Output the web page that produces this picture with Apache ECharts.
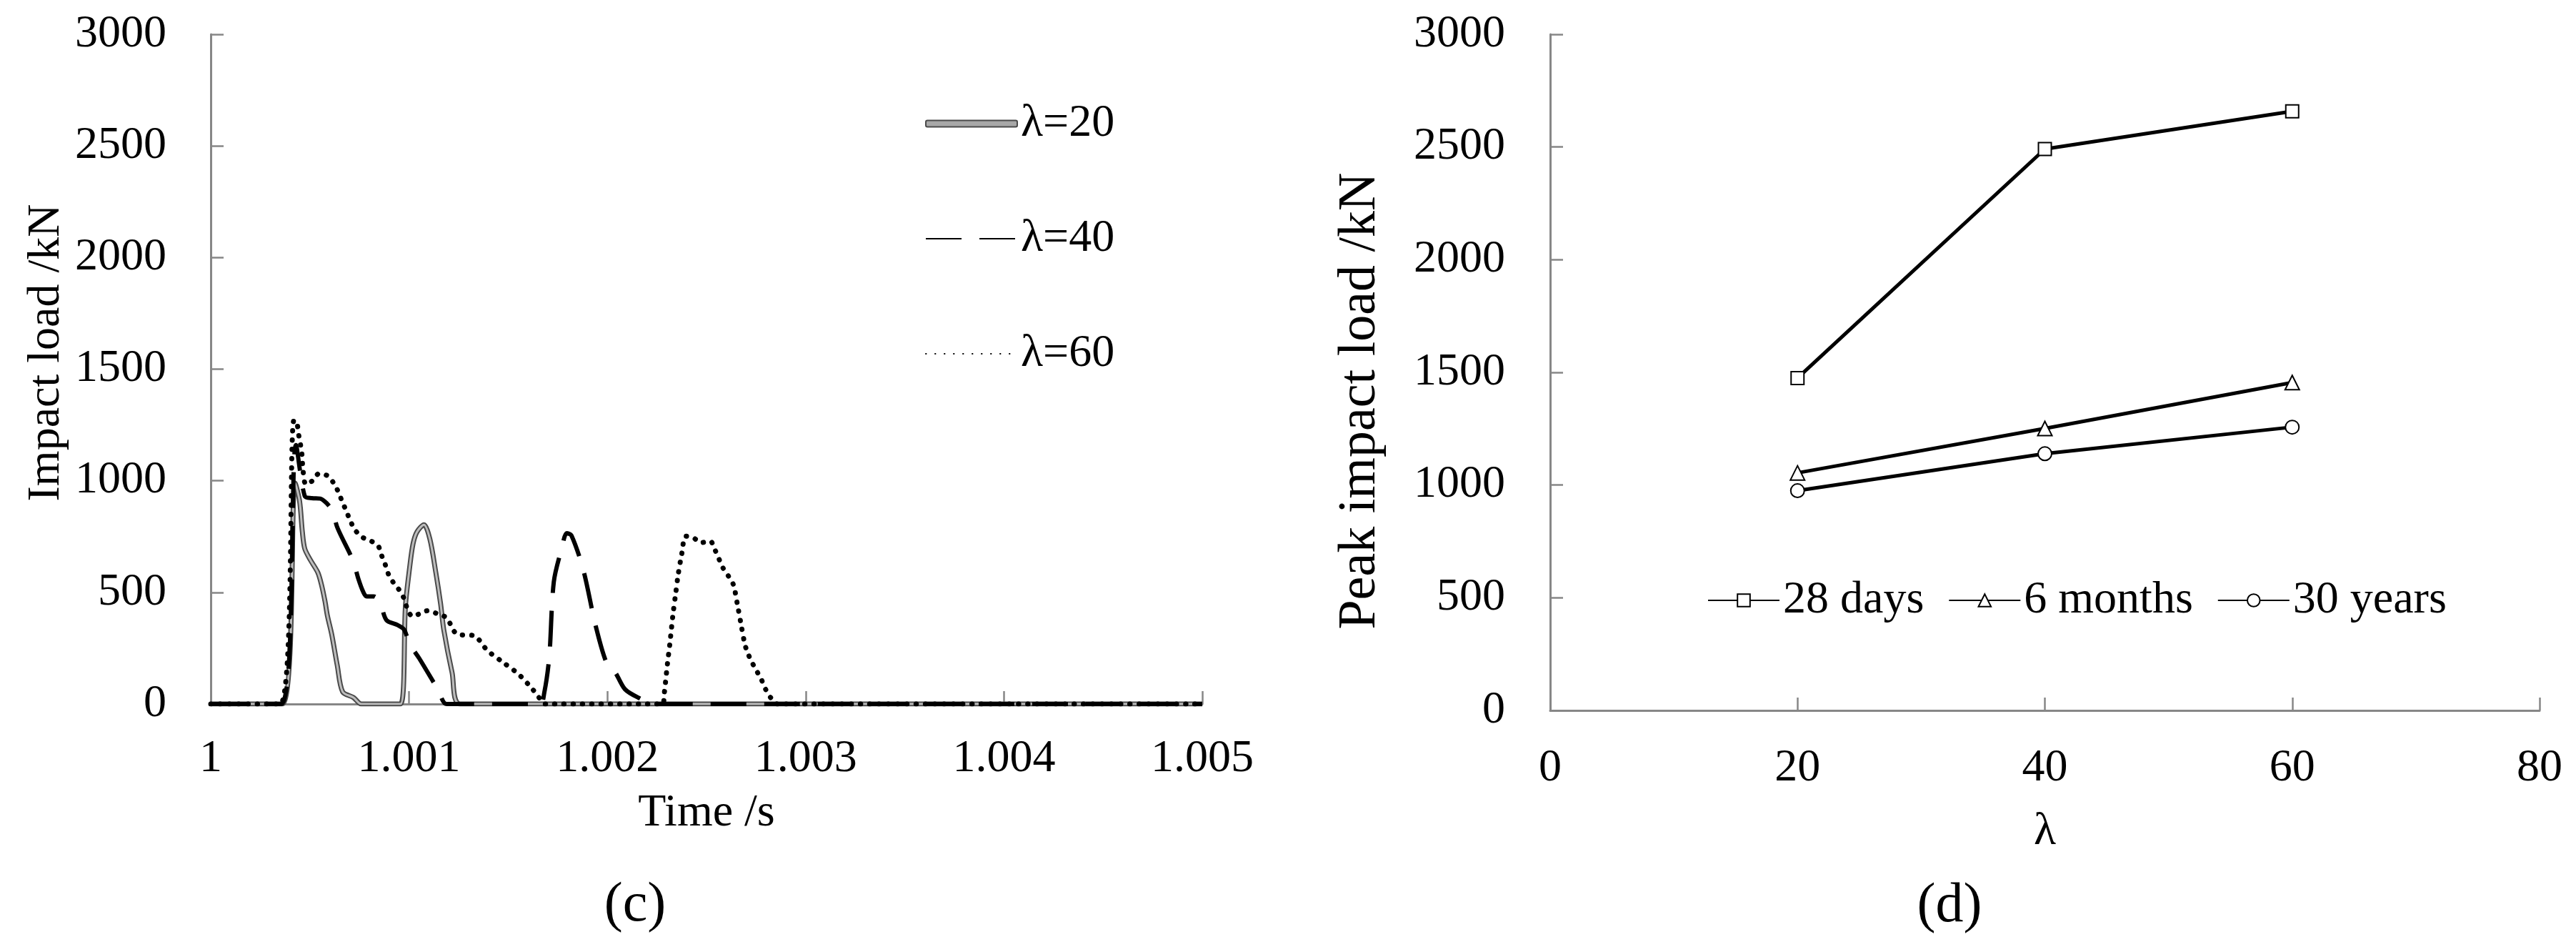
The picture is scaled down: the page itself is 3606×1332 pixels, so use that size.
<!DOCTYPE html>
<html>
<head>
<meta charset="utf-8">
<script src="https://cdn.jsdelivr.net/npm/echarts@6/dist/echarts.min.js"></script>
<style>
  html, body { margin: 0; padding: 0; background: #fff; }
  #chart { width: 3606px; height: 1332px; }
</style>
</head>
<body>
<div id="chart"></div>
<script>
// (c) impact load history, [time /s, load /kN]
const lambda20 = [
  [1, 0], [1.00036, 0], [1.000426, 989], [1.000448, 909], [1.000462, 771], [1.000474, 696],
  [1.000504, 643], [1.00054, 589], [1.000558, 536], [1.000576, 461], [1.000588, 397],
  [1.00061, 312], [1.000638, 173], [1.000665, 55], [1.00072, 29], [1.00076, 0],
  [1.000957, 0], [1.000982, 440], [1.001003, 611], [1.00102, 717], [1.00104, 771],
  [1.001075, 803], [1.001105, 739], [1.001135, 589], [1.001159, 450], [1.001175, 333],
  [1.001217, 141], [1.001258, 0], [1.005, 0],
]
const lambda40 = [
  [1, 0], [1.000355, 0], [1.00043, 1160], [1.000474, 931], [1.00051, 922], [1.000552, 920],
  [1.000585, 899], [1.000612, 867], [1.00064, 787], [1.000717, 643], [1.000745, 559],
  [1.000768, 504], [1.000786, 482], [1.000822, 482], [1.000853, 456], [1.000886, 376],
  [1.000941, 354], [1.000975, 333], [1.001003, 269], [1.001051, 205], [1.001148, 61],
  [1.00119, 0], [1.00166, 0], [1.001682, 51], [1.001707, 210], [1.00173, 547],
  [1.001771, 701], [1.001795, 765], [1.001819, 755], [1.001879, 600], [1.00194, 354],
  [1.001996, 184], [1.00204, 141], [1.002089, 66], [1.002155, 29], [1.00224, 0], [1.005, 0],
]
const lambda60 = [
  [1, 0], [1.00035, 0], [1.00042, 1272], [1.000436, 1251], [1.000444, 1203], [1.000453, 1160],
  [1.00046, 1117], [1.000465, 1050], [1.00048, 984], [1.000513, 1000], [1.000546, 1032],
  [1.000592, 1021], [1.000622, 986], [1.000645, 947], [1.000664, 904], [1.000684, 864],
  [1.000702, 824], [1.000727, 781], [1.00076, 749], [1.000801, 733], [1.000843, 710],
  [1.000861, 667], [1.000879, 627], [1.000895, 584], [1.000921, 544], [1.000952, 509],
  [1.000975, 472], [1.00099, 431], [1.001017, 392], [1.001053, 404], [1.001095, 418],
  [1.001148, 402], [1.001189, 386], [1.001244, 312], [1.001327, 306], [1.001396, 239],
  [1.001478, 184], [1.001554, 132], [1.001623, 66], [1.001655, 29], [1.001685, 0],
  [1.002278, 0], [1.002287, 47], [1.002303, 180], [1.002315, 269], [1.002331, 402],
  [1.002344, 491], [1.002357, 579], [1.002374, 666], [1.002396, 752], [1.002434, 744],
  [1.002474, 723], [1.002518, 730], [1.002543, 690], [1.002584, 608], [1.002612, 571],
  [1.002636, 533], [1.002656, 445], [1.002674, 358], [1.002693, 269], [1.002708, 228],
  [1.002729, 187], [1.002753, 148], [1.002777, 109], [1.002798, 66], [1.002823, 29],
  [1.002858, 0], [1.005, 0],
]

// (d) peak impact load vs slenderness
const lambdaValues = [20, 40, 60]
const days28 = [1475, 2491, 2658]
const months6 = [1054, 1251, 1455]
const years30 = [975, 1139, 1257]

const font = 'Liberation Serif'
const axisGray = '#878787'
const noMarker = { color: 'rgba(0,0,0,0)', borderWidth: 0 }

function valueAxis(extra) {
  return Object.assign({
    type: 'value',
    splitLine: { show: false },
    axisLine: { show: true, onZero: false, lineStyle: { color: axisGray, width: 3 } },
    axisTick: { show: true, inside: true, length: 18, lineStyle: { color: axisGray, width: 2.5 } },
    nameTextStyle: { color: '#000', fontFamily: font, fontSize: 64 },
    nameLocation: 'middle',
  }, extra)
}

function label(margin, formatter) {
  return { color: '#000', fontFamily: font, fontSize: 64, margin: margin, formatter: formatter || ((v) => String(v)) }
}

const chart = echarts.init(document.getElementById('chart'))
const option = {
  animation: false,
  backgroundColor: '#fff',
  grid: [
    { left: 295, right: 1923, top: 48, bottom: 347 },
    { left: 2170, right: 51, top: 48, bottom: 338 },
  ],
  xAxis: [
    valueAxis({
      gridIndex: 0, min: 1, max: 1.005, interval: 0.001,
      name: 'Time /s', nameGap: 121,
      axisLabel: label(45, (v) => v.toFixed(3).replace(/\.?0+$/, '')),
    }),
    valueAxis({
      gridIndex: 1, min: 0, max: 80, interval: 20,
      name: 'λ', nameGap: 138,
      axisLabel: label(49),
    }),
  ],
  yAxis: [
    valueAxis({
      gridIndex: 0, min: 0, max: 3000, interval: 500,
      name: 'Impact load /kN', nameGap: 198,
      nameTextStyle: { color: '#000', fontFamily: font, fontSize: 64, padding: [0, 0, 0, 46] },
      axisLabel: label(62),
    }),
    valueAxis({
      gridIndex: 1, min: 0, max: 3000, interval: 500,
      name: 'Peak impact load /kN', nameGap: 228,
      nameTextStyle: { color: '#000', fontFamily: font, fontSize: 74, padding: [0, 80, 0, 0] },
      axisLabel: label(63),
    }),
  ],
  legend: [
    {
      orient: 'vertical',
      left: 1290,
      top: 136,
      itemWidth: 128,
      itemHeight: 9,
      itemGap: 97,
      textStyle: { color: '#000', fontFamily: font, fontSize: 64, lineHeight: 64 },
      data: [
        { name: 'λ=20', icon: 'roundRect', itemStyle: { color: '#a8a8a8', borderColor: '#4a4a4a', borderWidth: 2 } },
        { name: 'λ=40', itemStyle: noMarker },
        { name: 'λ=60', itemStyle: noMarker },
      ],
    },
    {
      orient: 'horizontal',
      left: 2385,
      top: 803,
      itemWidth: 100,
      itemHeight: 22,
      itemGap: 34,
      textStyle: { color: '#000', fontFamily: font, fontSize: 64, lineHeight: 64 },
      data: ['28 days', '6 months', '30 years'],
    },
  ],
  graphic: [
    { type: 'text', x: 889, y: 1268, style: { text: '(c)', font: '78px ' + font, fill: '#000', align: 'center', verticalAlign: 'middle' } },
    { type: 'text', x: 2729, y: 1269, style: { text: '(d)', font: '78px ' + font, fill: '#000', align: 'center', verticalAlign: 'middle' } },
  ],
  series: [
    {
      name: 'λ=20', type: 'line', xAxisIndex: 0, yAxisIndex: 0, data: lambda20,
      symbol: 'none', smooth: 0.3,
      lineStyle: { color: '#4a4a4a', width: 7 },
      itemStyle: { color: '#4a4a4a' },
    },
    {
      name: 'λ=20 core', type: 'line', xAxisIndex: 0, yAxisIndex: 0, data: lambda20,
      symbol: 'none', smooth: 0.3,
      lineStyle: { color: '#bdbdbd', width: 3 },
      itemStyle: { color: '#bdbdbd' },
    },
    {
      name: 'λ=40', type: 'line', xAxisIndex: 0, yAxisIndex: 0, data: lambda40,
      symbol: 'none', smooth: 0.3,
      lineStyle: { color: '#000', width: 6, type: [50, 25] },
      itemStyle: { color: '#000' },
    },
    {
      name: 'λ=60', type: 'line', xAxisIndex: 0, yAxisIndex: 0, data: lambda60,
      symbol: 'none', smooth: 0.3,
      lineStyle: { color: '#000', width: 7, type: [0.5, 12.5], cap: 'round' },
      itemStyle: { color: '#000' },
    },
    {
      name: '28 days', type: 'line', xAxisIndex: 1, yAxisIndex: 1,
      data: lambdaValues.map((x, i) => [x, days28[i]]),
      symbol: 'emptyRect', symbolSize: 18,
      lineStyle: { color: '#000', width: 5 },
      itemStyle: { color: '#000', borderWidth: 3 },
    },
    {
      name: '6 months', type: 'line', xAxisIndex: 1, yAxisIndex: 1,
      data: lambdaValues.map((x, i) => [x, months6[i]]),
      symbol: 'emptyTriangle', symbolSize: 20,
      lineStyle: { color: '#000', width: 5 },
      itemStyle: { color: '#000', borderWidth: 3 },
    },
    {
      name: '30 years', type: 'line', xAxisIndex: 1, yAxisIndex: 1,
      data: lambdaValues.map((x, i) => [x, years30[i]]),
      symbol: 'emptyCircle', symbolSize: 19,
      lineStyle: { color: '#000', width: 5 },
      itemStyle: { color: '#000', borderWidth: 3 },
    },
  ],
}
chart.setOption(option)
</script>
</body>
</html>
